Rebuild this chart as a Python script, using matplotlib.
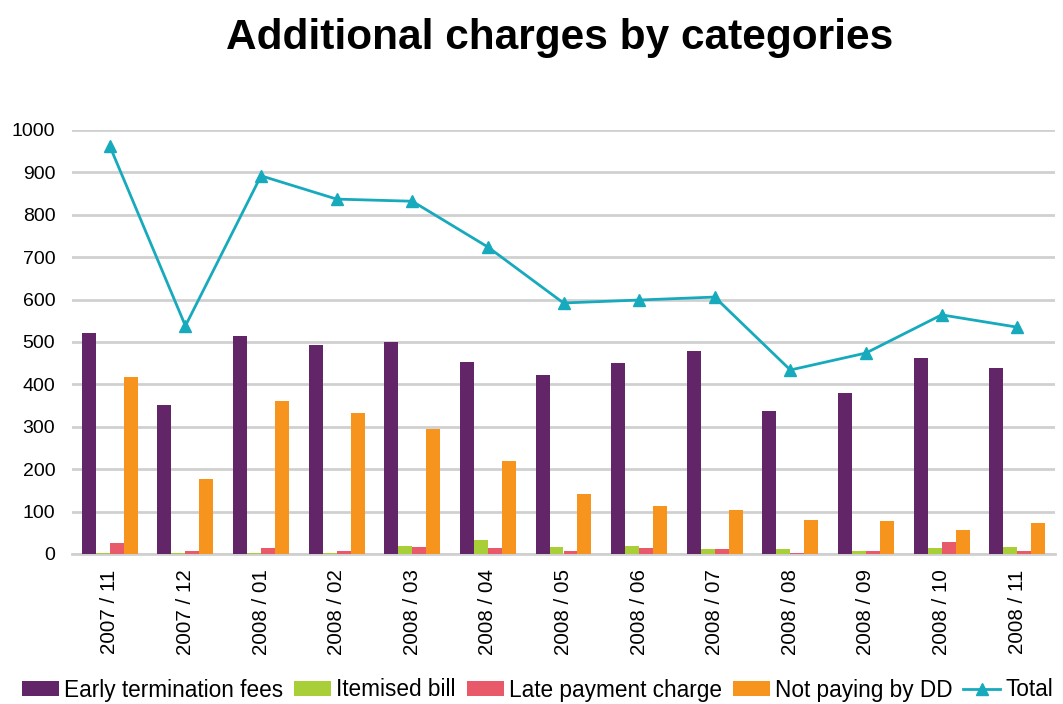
import matplotlib
matplotlib.use("Agg")
import matplotlib.pyplot as plt
import numpy as np

plt.rcParams['font.family'] = ['Liberation Sans', 'DejaVu Sans']

months = ["2007 / 11", "2007 / 12", "2008 / 01", "2008 / 02", "2008 / 03", "2008 / 04",
          "2008 / 05", "2008 / 06", "2008 / 07", "2008 / 08", "2008 / 09", "2008 / 10", "2008 / 11"]
early_termination = [521, 351, 514, 493, 500, 453, 422, 450, 479, 337, 380, 462, 439]
itemised_bill = [2, 2, 2, 3, 20, 34, 17, 20, 11, 12, 8, 15, 17]
late_payment = [25, 8, 15, 8, 17, 13, 8, 13, 11, 3, 8, 29, 6]
not_paying_dd = [417, 177, 361, 333, 295, 219, 142, 113, 104, 80, 78, 56, 73]
total = [962, 538, 892, 837, 832, 724, 592, 599, 606, 434, 474, 564, 535]

series = [
    ("Early termination fees", early_termination, "#622567"),
    ("Itemised bill", itemised_bill, "#A8CF38"),
    ("Late payment charge", late_payment, "#E8596A"),
    ("Not paying by DD", not_paying_dd, "#F7941E"),
]
total_color = "#17AABD"

W, H = 1063, 704
fig = plt.figure(figsize=(W / 100, H / 100), dpi=100)
ax = fig.add_axes([72 / W, (H - 554) / H, 983 / W, 424 / H])

x = np.arange(len(months))
bw = 0.185
handles = []
for i, (name, vals, col) in enumerate(series):
    b = ax.bar(x + (i - 1.5) * bw, vals, width=bw, color=col, label=name, zorder=3)
    handles.append(b)
ln, = ax.plot(x, total, color=total_color, lw=2, marker="^", markersize=9, label="Total", zorder=4)
handles.append(ln)

ax.set_xlim(-0.5, len(months) - 0.5)
ax.set_ylim(0, 1000)
ax.set_yticks(np.arange(0, 1001, 100))
ax.yaxis.grid(True, color="#D0D0D0", lw=2, zorder=0)
ax.set_axisbelow(True)
for s in ["top", "right", "left"]:
    ax.spines[s].set_visible(False)
ax.spines["bottom"].set_color("#D0D0D0")
ax.spines["bottom"].set_linewidth(2)
ax.tick_params(axis="y", length=0, labelsize=14, colors="black", pad=12)
ax.tick_params(axis="x", length=0, labelsize=14.8, colors="black", pad=11)
ax.set_xticks(x)
ax.set_xticklabels(months, rotation=90)

fig.text(560 / W, 1 - 38 / H, "Additional charges by categories", ha="center", va="center",
         fontsize=30.5, fontweight="bold")

labels = [h.get_label() for h in handles]
fig.legend(handles, labels, loc="center left", bbox_to_anchor=(22 / W, 1 - 690 / H), ncol=5,
           frameon=False, fontsize=16.3, handlelength=1.64, handleheight=0.66,
           handletextpad=0.22, columnspacing=0.48, borderaxespad=0, borderpad=0)

fig.savefig("out.png", dpi=100)
